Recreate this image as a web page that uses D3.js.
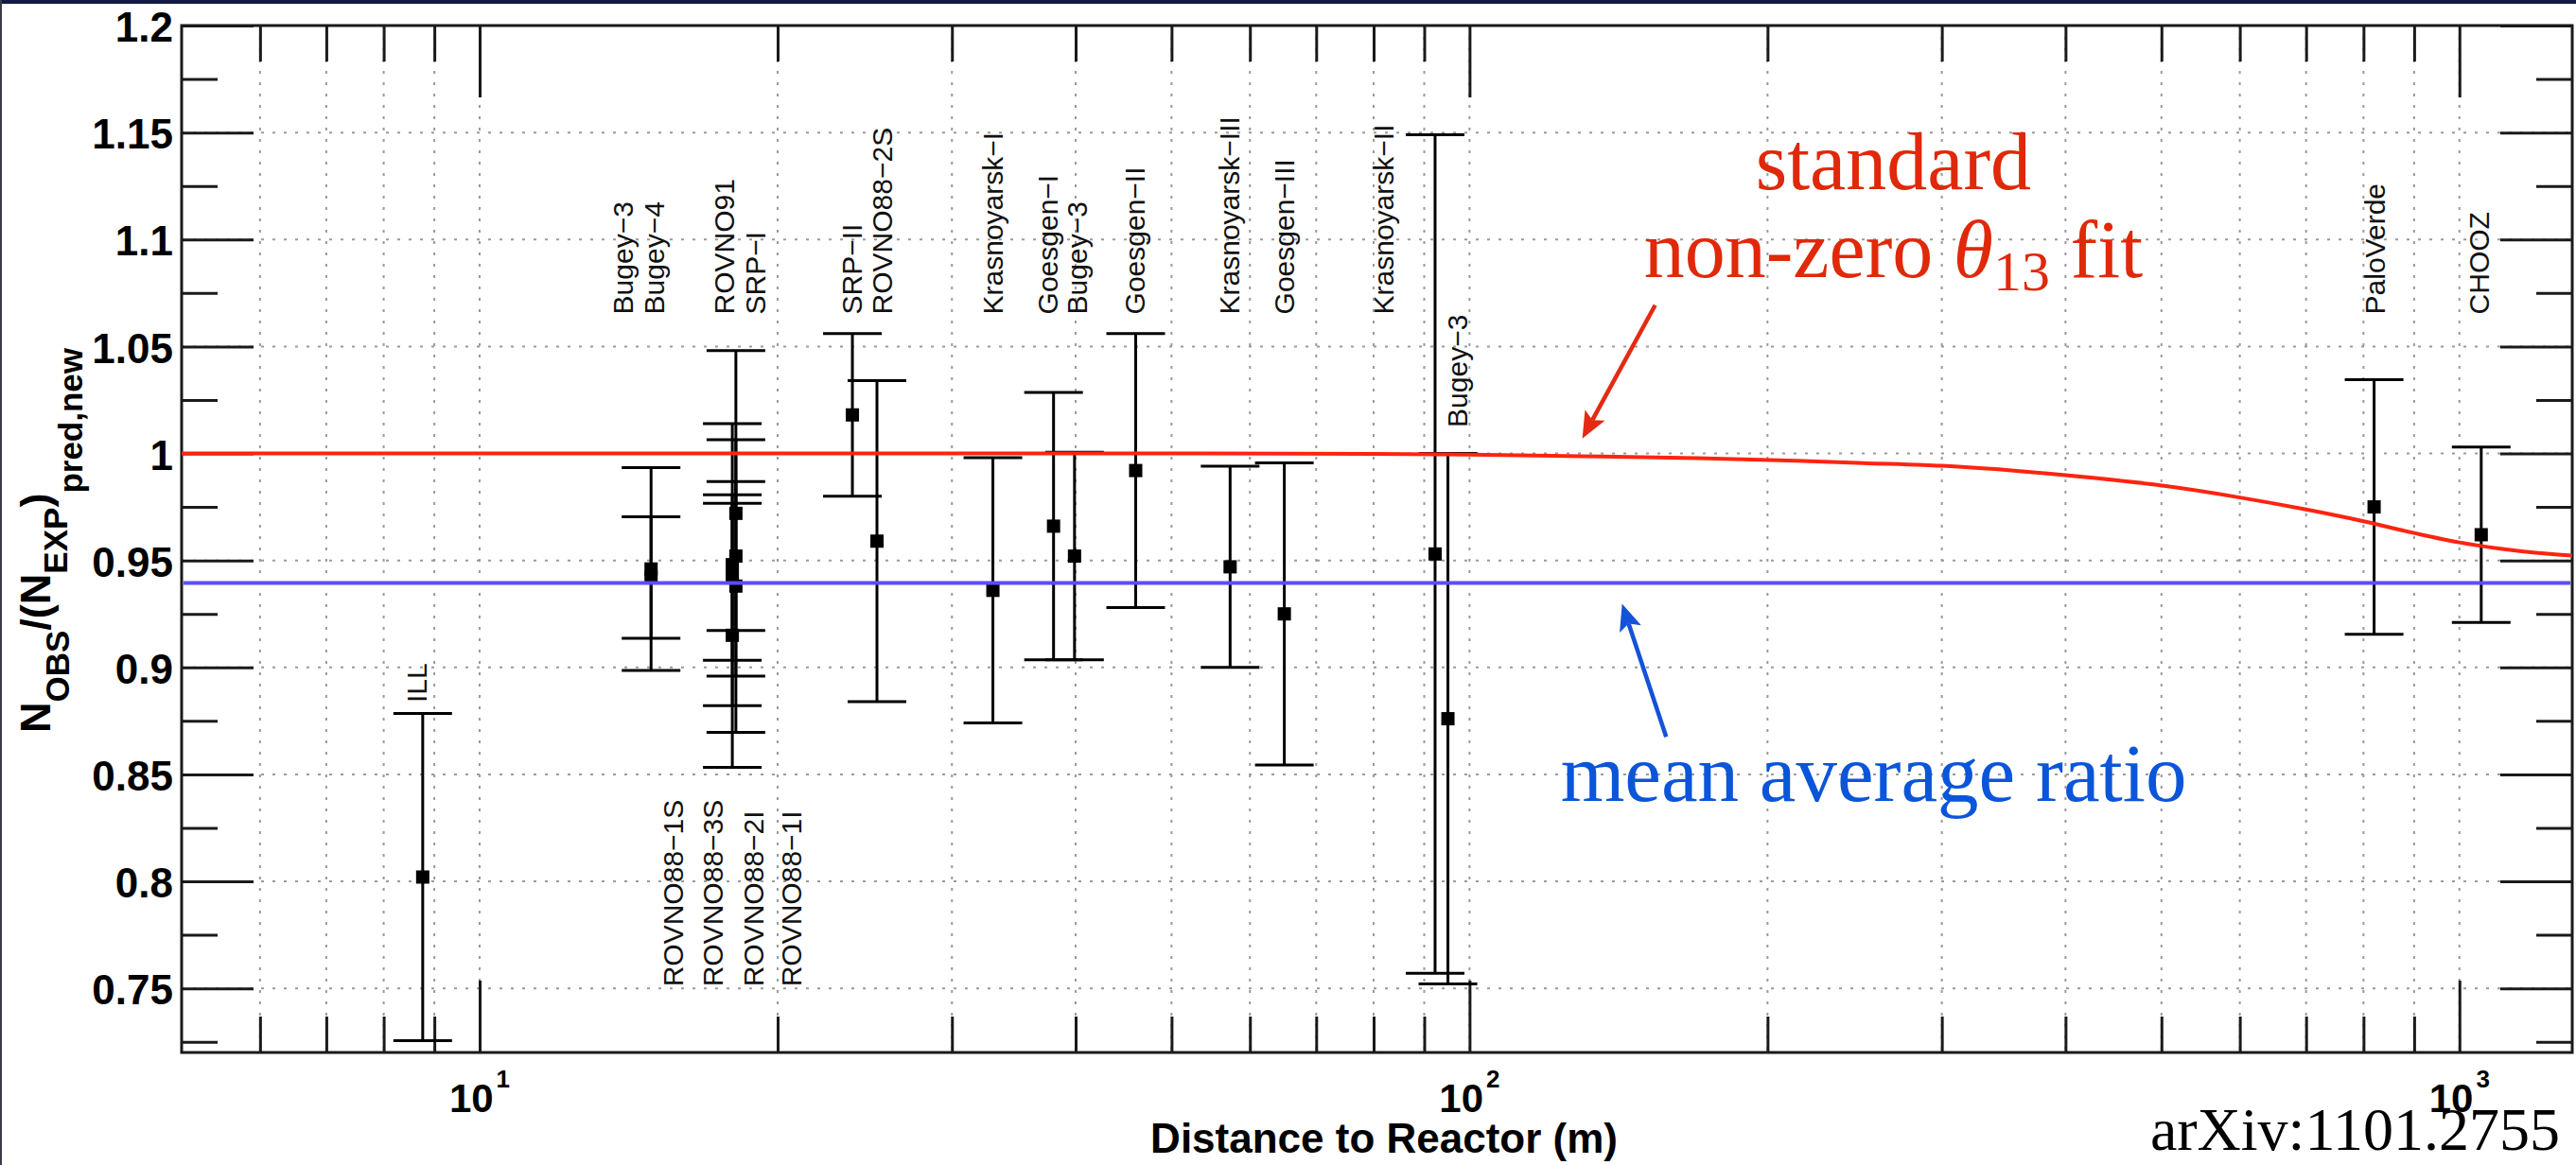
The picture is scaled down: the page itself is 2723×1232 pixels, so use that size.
<!DOCTYPE html>
<html><head><meta charset="utf-8">
<script src="https://cdn.jsdelivr.net/npm/d3@7"></script>
<style>
html,body{margin:0;padding:0;background:#fff;overflow:hidden;}
svg{display:block;}
</style></head><body>
<svg id="chart" width="2723" height="1232"></svg>
<script>
// ---------------- data ----------------
const experiments = ["ILL","Bugey-4","Bugey-3","ROVNO91","SRP-I","ROVNO88-1S","ROVNO88-3S","ROVNO88-2I","ROVNO88-1I","SRP-II","ROVNO88-2S","Krasnoyarsk-I","Goesgen-I","Bugey-3","Goesgen-II","Krasnoyarsk-III","Goesgen-III","Krasnoyarsk-II","Bugey-3","PaloVerde","CHOOZ"];
const distances   = [8.76, 14.9, 14.9, 18.0, 18.15, 18.15, 18.15, 18.0, 18.0, 23.8, 25.2, 33.0, 38.0, 39.9, 46.0, 57.3, 65.0, 92.3, 95.1, 820, 1052];
const ratios      = [0.802, 0.942, 0.946, 0.942, 0.952, 0.972, 0.938, 0.948, 0.915, 1.018, 0.959, 0.936, 0.966, 0.952, 0.992, 0.947, 0.925, 0.953, 0.876, 0.975, 0.962];
const errors      = [0.0765, 0.0284, 0.0474, 0.0387, 0.0348, 0.0761, 0.0684, 0.0659, 0.0617, 0.038, 0.075, 0.062, 0.0625, 0.0485, 0.064, 0.047, 0.0706, 0.196, 0.124, 0.0595, 0.041];

const labelTexts = ["ILL","Bugey−3","Bugey−4","ROVNO91","SRP−I","SRP−II","ROVNO88−2S","Krasnoyarsk−I","Goesgen−I","Bugey−3","Goesgen−II","Krasnoyarsk−III","Goesgen−III","Krasnoyarsk−II","Bugey−3","PaloVerde","CHOOZ","ROVNO88−1S","ROVNO88−3S","ROVNO88−2I","ROVNO88−1I"];
const labelDist  = [8.845, 14.28, 15.37, 18.07, 19.45, 24.34, 26.08, 33.73, 38.33, 41.06, 47.0, 58.55, 66.5, 83.8, 99.5, 840.9, 1071.7, 16.06, 17.6, 19.36, 21.14];
const labelRatio = [0.8835, 1.065, 1.065, 1.065, 1.065, 1.065, 1.065, 1.065, 1.065, 1.065, 1.065, 1.065, 1.065, 1.065, 1.0122, 1.065, 1.065, 0.7508, 0.7508, 0.7508, 0.7508];

// standard non-zero theta13 fit
const fitDist  = [5, 20, 50, 80, 100, 130, 170, 214, 250, 300, 400, 500, 600, 700, 800, 900, 1000, 1100, 1200, 1300];
const fitRatio = [1.0, 1.0, 1.0, 0.9998, 0.9995, 0.9987, 0.9978, 0.9966, 0.9955, 0.9942, 0.9898, 0.985, 0.9794, 0.9738, 0.9683, 0.9628, 0.9584, 0.9555, 0.9535, 0.9523];
const meanRatio = 0.9395;

// axes
const yMajorTicks  = [0.75, 0.8, 0.85, 0.9, 0.95, 1.0, 1.05, 1.1, 1.15, 1.2];
const yTickLabels  = ["0.75","0.8","0.85","0.9","0.95","1","1.05","1.1","1.15","1.2"];
const yMinorTicks  = [0.725, 0.775, 0.825, 0.875, 0.925, 0.975, 1.025, 1.075, 1.125, 1.175];
const xMajorTicks  = [10, 100, 1000];
const xTickExps    = ["1", "2", "3"];
const xMinorTicks  = [6,7,8,9,20,30,40,50,60,70,80,90,200,300,400,500,600,700,800,900];
const xDomain = [5, 1300];
const yDomain = [0.72, 1.2];
const xTitle = "Distance to Reactor (m)";
const sourceText = "arXiv:1101.2755";

// annotations (data coordinates)
const redArrowFrom  = [154, 1.0693], redArrowTo  = [130, 1.007];
const blueArrowFrom = [158, 0.8675], blueArrowTo = [142.6, 0.9297];
const redTextPos1 = [268, 1.1236], redTextPos2 = [268, 1.0823];
const blueTextPos = [123.6, 0.8376];

// ---------------- drawing ----------------
const W = 2723, H = 1232;
const L = 192, R = 2719, T = 27, B = 1113;
const svg = d3.select("#chart");
const x = d3.scaleLog().domain(xDomain).range([L, R]);
const y = d3.scaleLinear().domain(yDomain).range([B, T]);

const SANS = "'Liberation Sans', Arial, Helvetica, sans-serif";
const SERIF = "'Liberation Serif', 'Times New Roman', serif";

// slide frame
svg.append("rect").attr("x",0).attr("y",0).attr("width",W).attr("height",H).attr("fill","#fff");
svg.append("rect").attr("x",0).attr("y",0).attr("width",W).attr("height",4).attr("fill","#141a46");
svg.append("rect").attr("x",0).attr("y",0).attr("width",2).attr("height",H).attr("fill","#3a3b48");

svg.append("defs").append("clipPath").attr("id","plotclip")
  .append("rect").attr("x",L).attr("y",T).attr("width",R-L).attr("height",B-T);

// grid
const grid = svg.append("g").attr("stroke","#9a9a9a").attr("stroke-width",2).attr("stroke-dasharray","3,9");
grid.selectAll("line.gx").data(xMinorTicks.concat(xMajorTicks)).join("line")
  .attr("x1",d=>x(d)).attr("x2",d=>x(d)).attr("y1",T).attr("y2",B);
grid.selectAll("line.gy").data(yMajorTicks.filter(v=>v<1.2)).join("line")
  .attr("class","gy").attr("x1",L).attr("x2",R).attr("y1",d=>y(d)).attr("y2",d=>y(d));

// axes ticks via d3 axes
function styleAxis(g){
  g.select(".domain").remove();
  g.selectAll(".tick line").attr("stroke","#1a1a1a").attr("stroke-width",3);
}
svg.append("g").attr("transform",`translate(${L},0)`)
  .call(d3.axisLeft(y).tickValues(yMajorTicks).tickSize(-76).tickPadding(9).tickFormat((d,i)=>yTickLabels[i]))
  .call(styleAxis)
  .call(g=>g.selectAll("text").attr("font-family",SANS).attr("font-weight","bold").attr("font-size",44).attr("fill","#000").attr("dy","0.38em"));
svg.append("g").attr("transform",`translate(${L},0)`)
  .call(d3.axisLeft(y).tickValues(yMinorTicks).tickSize(-38).tickFormat("")).call(styleAxis);
svg.append("g").attr("transform",`translate(${R},0)`)
  .call(d3.axisRight(y).tickValues(yMajorTicks).tickSize(-76).tickFormat("")).call(styleAxis);
svg.append("g").attr("transform",`translate(${R},0)`)
  .call(d3.axisRight(y).tickValues(yMinorTicks).tickSize(-38).tickFormat("")).call(styleAxis);
svg.append("g").attr("transform",`translate(0,${B})`)
  .call(d3.axisBottom(x).tickValues(xMajorTicks).tickSize(-76).tickFormat("")).call(styleAxis);
svg.append("g").attr("transform",`translate(0,${B})`)
  .call(d3.axisBottom(x).tickValues(xMinorTicks).tickSize(-38).tickFormat("")).call(styleAxis);
svg.append("g").attr("transform",`translate(0,${T})`)
  .call(d3.axisTop(x).tickValues(xMajorTicks).tickSize(-76).tickFormat("")).call(styleAxis);
svg.append("g").attr("transform",`translate(0,${T})`)
  .call(d3.axisTop(x).tickValues(xMinorTicks).tickSize(-38).tickFormat("")).call(styleAxis);

// x tick labels 10^n
const xl = svg.selectAll("text.xl").data(xMajorTicks).join("text").attr("class","xl")
  .attr("x",d=>x(d)).attr("y",1176).attr("text-anchor","middle")
  .attr("font-family",SANS).attr("font-weight","bold").attr("fill","#000");
xl.append("tspan").attr("font-size",42).text("10");
xl.append("tspan").attr("font-size",26).attr("dy",-26).attr("dx",3).text((d,i)=>xTickExps[i]);

// frame
svg.append("rect").attr("x",L).attr("y",T).attr("width",R-L).attr("height",B-T)
  .attr("fill","none").attr("stroke","#1a1a1a").attr("stroke-width",3);

// axis titles
svg.append("text").attr("x",1710).attr("y",1219).attr("text-anchor","end")
  .attr("font-family",SANS).attr("font-weight","bold").attr("font-size",44).attr("fill","#000").text(xTitle);
const yt = svg.append("text").attr("transform","translate(53,775) rotate(-90)")
  .attr("font-family",SANS).attr("font-weight","bold").attr("fill","#000");
yt.append("tspan").attr("font-size",45).text("N");
yt.append("tspan").attr("font-size",35).attr("dy",20).text("OBS");
yt.append("tspan").attr("font-size",45).attr("dy",-20).text("/(N");
yt.append("tspan").attr("font-size",35).attr("dy",18).text("EXP");
yt.append("tspan").attr("font-size",45).attr("dy",-18).text(")");
yt.append("tspan").attr("font-size",35).attr("dy",34).text("pred,new");

// data points
const pts = experiments.map((n,i)=>({name:n, d:distances[i], r:ratios[i], e:errors[i]}));
const eb = svg.append("g").attr("stroke","#000").attr("stroke-width",3);
eb.selectAll("line.v").data(pts).join("line").attr("class","v")
  .attr("x1",d=>x(d.d)).attr("x2",d=>x(d.d)).attr("y1",d=>y(d.r+d.e)).attr("y2",d=>y(d.r-d.e));
eb.selectAll("line.ct").data(pts).join("line").attr("class","ct")
  .attr("x1",d=>x(d.d)-31).attr("x2",d=>x(d.d)+31).attr("y1",d=>y(d.r+d.e)).attr("y2",d=>y(d.r+d.e));
eb.selectAll("line.cb").data(pts).join("line").attr("class","cb")
  .attr("x1",d=>x(d.d)-31).attr("x2",d=>x(d.d)+31).attr("y1",d=>y(d.r-d.e)).attr("y2",d=>y(d.r-d.e));
svg.append("g").selectAll("rect").data(pts).join("rect")
  .attr("x",d=>x(d.d)-7).attr("y",d=>y(d.r)-7).attr("width",14).attr("height",14).attr("fill","#000");

// fit curve and mean line
const fit = fitDist.map((d,i)=>({d:d, r:fitRatio[i]}));
svg.append("path").datum(fit).attr("clip-path","url(#plotclip)")
  .attr("d", d3.line().x(p=>x(p.d)).y(p=>y(p.r)).curve(d3.curveMonotoneX))
  .attr("fill","none").attr("stroke","#ff2410").attr("stroke-width",4);
svg.append("line").attr("x1",L+2).attr("x2",R-2).attr("y1",y(meanRatio)).attr("y2",y(meanRatio))
  .attr("stroke","#5b4cff").attr("stroke-width",4);

// experiment labels
const labs = labelTexts.map((t,i)=>({t:t, d:labelDist[i], r:labelRatio[i]}));
svg.append("g").selectAll("text").data(labs).join("text")
  .attr("transform",d=>`translate(${x(d.d)},${y(d.r)}) rotate(-90)`)
  .attr("font-family",SANS).attr("font-size",30).attr("fill","#111").text(d=>d.t);

// annotations
function arrow(from, to, color){
  const x1 = x(from[0]), y1 = y(from[1]), x2 = x(to[0]), y2 = y(to[1]);
  const ang = Math.atan2(y2-y1, x2-x1);
  const len = 28, half = 12, notch = 22;
  const ca = Math.cos(ang), sa = Math.sin(ang);
  const bx = x2 - notch*ca, by = y2 - notch*sa;
  svg.append("line").attr("x1",x1).attr("y1",y1).attr("x2",bx).attr("y2",by)
    .attr("stroke",color).attr("stroke-width",4.5);
  const p1 = [x2 - len*ca + half*sa, y2 - len*sa - half*ca];
  const p2 = [x2 - len*ca - half*sa, y2 - len*sa + half*ca];
  svg.append("path").attr("d",`M${x2},${y2}L${p1[0]},${p1[1]}L${bx},${by}L${p2[0]},${p2[1]}Z`).attr("fill",color);
}
arrow(redArrowFrom, redArrowTo, "#e42a12");
arrow(blueArrowFrom, blueArrowTo, "#1452d8");

svg.append("text").attr("x",x(redTextPos1[0])).attr("y",y(redTextPos1[1])).attr("text-anchor","middle")
  .attr("font-family",SERIF).attr("font-size",86).attr("fill","#e0280a").text("standard");
const t2 = svg.append("text").attr("x",x(redTextPos2[0])).attr("y",y(redTextPos2[1])).attr("text-anchor","middle")
  .attr("font-family",SERIF).attr("font-size",86).attr("fill","#e0280a");
t2.append("tspan").text("non-zero ");
t2.append("tspan").attr("font-style","italic").text("θ");
t2.append("tspan").attr("font-size",60).attr("dy",14).text("13");
t2.append("tspan").attr("dy",-14).text(" fit");

svg.append("text").attr("x",x(blueTextPos[0])).attr("y",y(blueTextPos[1]))
  .attr("font-family",SERIF).attr("font-size",87).attr("fill","#0b55d9").text("mean average ratio");

svg.append("text").attr("x",2706).attr("y",1216).attr("text-anchor","end")
  .attr("font-family",SERIF).attr("font-size",64).attr("fill","#000").text(sourceText);
</script>
</body></html>
